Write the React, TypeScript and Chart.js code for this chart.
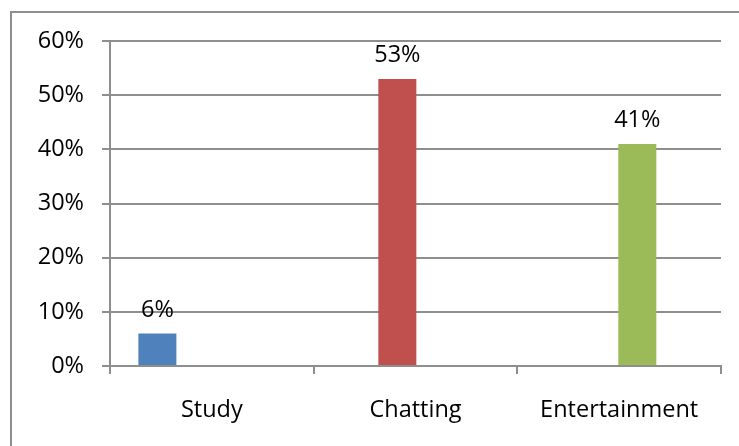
import React, { useEffect, useRef } from "react";
import { Chart, registerables } from "chart.js";

Chart.register(...registerables);

const categories = ["Study", "Chatting", "Entertainment"];
const studyValues = [6, null, null];
const chattingValues = [null, 53, null];
const entertainmentValues = [null, null, 41];
const spareValues = [null, null, null];
const yTicks = [0, 10, 20, 30, 40, 50, 60];

const GRID = "#8e8e8e";
const FONT = { family: "'Open Sans', sans-serif", size: 23.5 };

const framePlugin = {
  id: "frame",
  beforeDraw(chart: any) {
    const ctx = chart.ctx;
    ctx.save();
    ctx.fillStyle = "#ffffff";
    ctx.fillRect(0, 0, chart.width, chart.height);
    ctx.strokeStyle = GRID;
    ctx.lineWidth = 2;
    ctx.strokeRect(11, 12, chart.width + 20, chart.height + 20);
    ctx.restore();
  },
};

const labelPlugin = {
  id: "valueLabels",
  afterDatasetsDraw(chart: any) {
    const ctx = chart.ctx;
    ctx.save();
    ctx.font = `${FONT.size}px ${FONT.family}`;
    ctx.fillStyle = "#000000";
    ctx.textAlign = "center";
    ctx.textBaseline = "alphabetic";
    chart.data.datasets.forEach((ds: any, di: number) => {
      const meta = chart.getDatasetMeta(di);
      meta.data.forEach((el: any, i: number) => {
        const v = ds.data[i];
        if (v === null || v === undefined) return;
        ctx.fillText(`${v}%`, el.x, el.y - 17);
      });
    });
    ctx.restore();
  },
};

export default function App() {
  const ref = useRef<HTMLCanvasElement>(null);
  useEffect(() => {
    if (!ref.current) return;
    const common = { categoryPercentage: 0.713, barPercentage: 1.047, borderWidth: 0 };
    const chart = new Chart(ref.current, {
      type: "bar",
      data: {
        labels: categories,
        datasets: [
          { label: "Study", data: studyValues, backgroundColor: "#4F81BD", ...common },
          { label: "Chatting", data: chattingValues, backgroundColor: "#C0504D", ...common },
          { label: "Entertainment", data: entertainmentValues, backgroundColor: "#9BBB59", ...common },
          { label: "", data: spareValues, backgroundColor: "#8064A2", ...common },
        ],
      },
      options: {
        responsive: false,
        animation: false,
        layout: { padding: { left: 0, right: 18, top: 41, bottom: 0 } },
        plugins: { legend: { display: false }, tooltip: { enabled: false } },
        scales: {
          x: {
            grid: {
              display: true,
              drawOnChartArea: false,
              drawTicks: true,
              tickLength: 8,
              offset: true,
              color: GRID,
              lineWidth: 2,
            },
            border: { display: true, color: GRID, width: 2 },
            ticks: { color: "#000", font: FONT, padding: 22, maxRotation: 0 },
            afterFit(scale: any) {
              scale.height = 80;
            },
          },
          y: {
            min: 0,
            max: 60,
            afterBuildTicks(scale: any) {
              scale.ticks = yTicks.map((v) => ({ value: v }));
            },
            grid: { color: GRID, lineWidth: 2, tickLength: 8, tickColor: GRID },
            border: { display: true, color: GRID, width: 2 },
            ticks: {
              color: "#000",
              font: FONT,
              padding: 18,
              callback: (v: any) => `${v}%`,
            },
            afterFit(scale: any) {
              scale.width = 110;
            },
          },
        },
      },
      plugins: [framePlugin, labelPlugin],
    });
    return () => chart.destroy();
  }, []);
  return (
    <div style={{ position: "fixed", left: 0, top: 0, width: 739, height: 446 }}>
      <canvas ref={ref} width={739} height={446} style={{ display: "block" }} />
    </div>
  );
}
